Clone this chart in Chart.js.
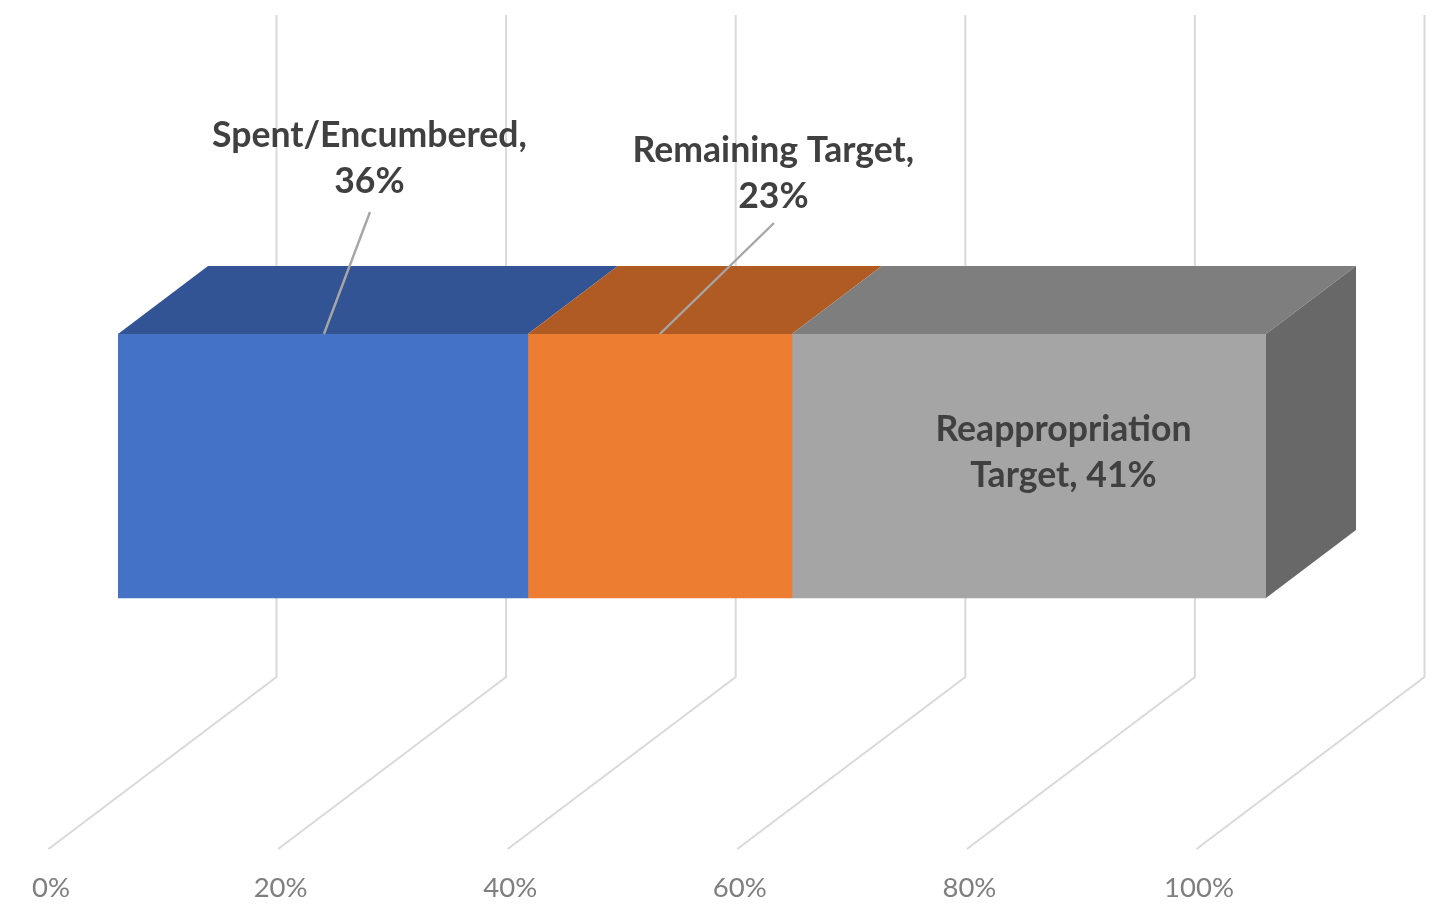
<!DOCTYPE html>
<html>
<head>
<meta charset="utf-8">
<script src="https://cdn.jsdelivr.net/npm/chart.js@4"></script>
<style>
  html, body { margin: 0; padding: 0; background: #fff; }
  #wrap { width: 1449px; height: 904px; }
</style>
</head>
<body>
<div id="wrap"><canvas id="chart" width="1449" height="904"></canvas></div>
<script>
const categories = ['Budget'];
const seriesNames = ['Spent/Encumbered', 'Remaining Target', 'Reappropriation Target'];
const seriesValues = [35.7, 23, 41.3];
const seriesLabels = [['Spent/Encumbered,', '36%'], ['Remaining Target,', '23%'], ['Reappropriation', 'Target, 41%']];
const tickValues = [0, 20, 40, 60, 80, 100];

const frontColors = ['#4472C4', '#ED7D31', '#A5A5A5'];
const topColors = ['#325495', '#B05B23', '#7E7E7E'];
const sideColor = '#686868';
const gridColor = '#D9D9D9';

// depth of the box and of the floor, the picture is an oblique projection
const boxDepth = { x: 90, y: -68 };
const floorDepth = { x: 228, y: -172 };
const floorFront = -69.5;
const wallTop = 15;

function poly(ctx, pts, fill) {
  ctx.beginPath();
  pts.forEach((p, i) => i ? ctx.lineTo(p[0], p[1]) : ctx.moveTo(p[0], p[1]));
  ctx.closePath();
  ctx.fillStyle = fill;
  ctx.fill();
}

const wallsPlugin = {
  id: 'walls',
  beforeDatasetsDraw(chart) {
    const { ctx, scales, chartArea } = chart;
    ctx.save();
    ctx.strokeStyle = gridColor;
    ctx.lineWidth = 2;
    tickValues.forEach(v => {
      const x0 = scales.x.getPixelForValue(v) + floorFront;
      const y0 = chartArea.bottom;
      const x1 = x0 + floorDepth.x;
      const y1 = y0 + floorDepth.y;
      ctx.beginPath();
      ctx.moveTo(x0, y0);
      ctx.lineTo(x1, y1);
      ctx.lineTo(x1, wallTop);
      ctx.stroke();
    });
    ctx.restore();
  }
};

const boxPlugin = {
  id: 'box',
  afterDatasetsDraw(chart) {
    const { ctx } = chart;
    const bars = chart.data.datasets.map((d, i) => chart.getDatasetMeta(i).data[0]);
    const dx = boxDepth.x, dy = boxDepth.y;
    ctx.save();
    bars.forEach((b, i) => {
      const top = b.y - b.height / 2;
      poly(ctx, [[b.base, top], [b.base + dx, top + dy], [b.x + dx, top + dy], [b.x, top]], topColors[i]);
    });
    const last = bars[bars.length - 1];
    const t = last.y - last.height / 2, btm = last.y + last.height / 2;
    poly(ctx, [[last.x, t], [last.x + dx, t + dy], [last.x + dx, btm + dy], [last.x, btm]], sideColor);

    // data labels, the first two sit above the box with a leader line
    const labelPos = [
      { dx: 46.5, y: 135.5, from: [370, 212], toDx: 1 },
      { dx: 113.5, y: 150.5, from: [774, 223], toDx: 0 },
      { dx: 34.5, y: 429.5 }
    ];
    ctx.textAlign = 'center';
    ctx.textBaseline = 'middle';
    ctx.font = 'bold 35.6px Lato';
    bars.forEach((b, i) => {
      const cx = (b.base + b.x) / 2;
      const p = labelPos[i];
      if (p.from) {
        ctx.strokeStyle = '#A6A6A6';
        ctx.lineWidth = 2.4;
        ctx.beginPath();
        ctx.moveTo(p.from[0], p.from[1]);
        ctx.lineTo(cx + p.toDx, t);
        ctx.stroke();
      }
      ctx.fillStyle = '#404040';
      seriesLabels[i].forEach((line, k) => ctx.fillText(line, cx + p.dx, p.y + k * 46));
    });
    ctx.restore();
  }
};

new Chart(document.getElementById('chart'), {
  type: 'bar',
  data: {
    labels: categories,
    datasets: seriesNames.map((name, i) => ({
      label: name,
      data: [seriesValues[i]],
      backgroundColor: frontColors[i],
      borderWidth: 0,
      barThickness: 264
    }))
  },
  options: {
    indexAxis: 'y',
    responsive: false,
    animation: false,
    layout: { padding: { left: 118, right: 183, top: 83, bottom: 0 } },
    plugins: { legend: { display: false }, title: { display: false }, tooltip: { enabled: false } },
    scales: {
      x: {
        stacked: true,
        min: 0,
        max: 100,
        grid: { display: false },
        border: { display: false },
        afterFit(axis) { axis.height = 55; },
        ticks: {
          stepSize: 20,
          maxRotation: 0,
          autoSkip: false,
          padding: 15,
          labelOffset: -67,
          color: '#7F7F7F',
          font: { family: 'Lato', size: 27.5 },
          callback: v => v + '%'
        }
      },
      y: { stacked: true, display: false }
    }
  },
  plugins: [wallsPlugin, boxPlugin]
});
</script>
</body>
</html>
